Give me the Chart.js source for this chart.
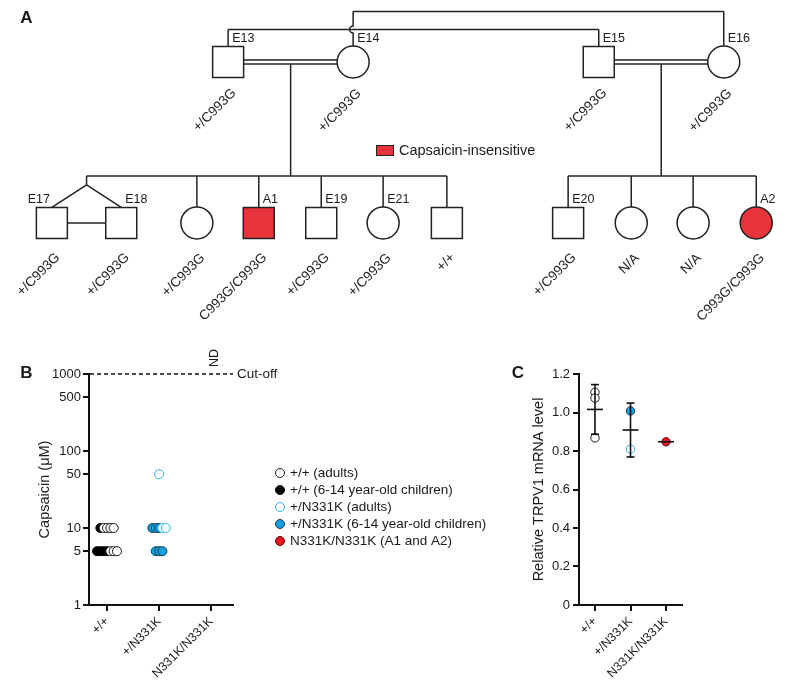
<!DOCTYPE html>
<html><head><meta charset="utf-8">
<script src="https://cdn.jsdelivr.net/npm/chart.js@4.4.1/dist/chart.umd.min.js"></script>
<style>
html,body{margin:0;padding:0;background:#fff;}
#wrap{position:relative;width:787px;height:688px;overflow:hidden;background:#fff;}
canvas{position:absolute;}
</style></head><body>
<div id="wrap">
<canvas id="ped" width="787" height="330" style="left:0;top:0"></canvas>
<canvas id="cb" width="505" height="358" style="left:0;top:330px"></canvas>
<canvas id="cc" width="282" height="358" style="left:505px;top:330px"></canvas>
</div>
<script>
// ---------------- DATA ----------------
// Panel A: pedigree
const pedLabels     = ['E13','E14','E15','E16','E17','E18','','A1','E19','E21','','E20','','','A2'];
const pedSex        = ['M','F','M','F','M','M','F','M','M','F','M','M','F','F','F'];
const pedGeneration = [1,1,1,1,2,2,2,2,2,2,2,2,2,2,2];
const pedSlot       = [3.65,5.65,9.58,11.58,0.83,1.94,3.15,4.14,5.14,6.13,7.15,9.09,10.1,11.09,12.1];
const pedGenotype   = ['+/C993G','+/C993G','+/C993G','+/C993G','+/C993G','+/C993G','+/C993G','C993G/C993G','+/C993G','+/C993G','+/+','+/C993G','N/A','N/A','C993G/C993G'];
const pedAffected   = [0,0,0,0,0,0,0,1,0,0,0,0,0,0,1];
const pedCouples    = [[0,1],[2,3]];
const pedSibships   = [[4,5,6,7,8,9,10],[11,12,13,14]];
const pedTwins      = [[4,5]];
const pedLinks      = [[0,2],[1,3]];
const pedLegendText = 'Capsaicin-insensitive';

// Panel B: capsaicin threshold (µM)
const xCategories = ['+/+','+/N331K','N331K/N331K'];
const seriesNames = ['+/+ (adults)','+/+ (6-14 year-old children)','+/N331K (adults)','+/N331K (6-14 year-old children)','N331K/N331K (A1 and A2)'];
const wtAdults    = [10,10,10,10,5,5,5];
const wtChildren  = [10,5,5,5,5];
const hetAdults   = [50,10,10];
const hetChildren = [10,10,10,5,5,5];
const homozygous  = [];          // ND (above cut-off)
const yTicksB     = [1,5,10,50,100,500,1000];
const cutoffValue = 1000;
const ndText      = 'ND';
const cutoffText  = 'Cut-off';

// Panel C: relative TRPV1 mRNA level
const wtAdultsC    = [1.105,1.075,0.868];
const hetAdultsC   = [0.81];
const hetChildrenC = [1.008];
const homozygousC  = [0.848];
const yTicksC      = [0,0.2,0.4,0.6,0.8,1.0,1.2];
const yTickLabelsC = ['0','0.2','0.4','0.6','0.8','1.0','1.2'];

// ---------------- STYLE ----------------
const FONT = '"Liberation Sans", Arial, Helvetica, sans-serif';
Chart.defaults.font.family = FONT;
Chart.defaults.color = '#1a1a1a';
const INK = '#1a1a1a';
const PED = {sq:31, r:16, line:1.5, ink:'#222', red:'#e9333a', sibRise:47, twinDrop:9, linkRise:[32.5,50.5], dbl:2, idGap:7.5, genoDy:{1:13.5,2:17}, genoDx:6};
const STY = [
  {bg:'#ffffff', bd:'#1a1a1a'},
  {bg:'#000000', bd:'#000000'},
  {bg:'#ffffff', bd:'#2db4ec'},
  {bg:'#159fde', bd:'#133a55'},
  {bg:'#e8161e', bd:'#5a0b0b'}
];

function seg(ctx,x1,y1,x2,y2){ctx.beginPath();ctx.moveTo(x1,y1);ctx.lineTo(x2,y2);ctx.stroke();}

// ---------------- PANEL A ----------------
const pedPlugin = {
  id:'pedigree',
  beforeDatasetsDraw(chart){
    const ctx = chart.ctx, xs = chart.scales.x, ys = chart.scales.y;
    const px = i => xs.getPixelForValue(pedSlot[i]);
    const py = i => ys.getPixelForValue(pedGeneration[i]);
    const half = i => pedSex[i]==='M' ? PED.sq/2 : PED.r;
    ctx.save();
    ctx.strokeStyle = PED.ink; ctx.lineWidth = PED.line;
    // upper links
    const geo = pedLinks.map(([a,b],k)=>({xa:px(a),xb:px(b),yTop:py(a)-PED.linkRise[k],ya:py(a)-half(a),yb:py(b)-half(b)}));
    geo.forEach((g,k)=>{
      seg(ctx,g.xa,g.yTop,g.xb,g.yTop);
      [[g.xa,g.ya],[g.xb,g.yb]].forEach(([vx,vyb])=>{
        const hops = geo.filter((h,j)=>j!==k && h.yTop>g.yTop && h.yTop<vyb && vx>Math.min(h.xa,h.xb)+1 && vx<Math.max(h.xa,h.xb)-1).map(h=>h.yTop).sort((a,b)=>a-b);
        ctx.beginPath(); ctx.moveTo(vx,g.yTop);
        hops.forEach(hy=>{ctx.lineTo(vx,hy-3.5); ctx.arc(vx,hy,3.5,-Math.PI/2,Math.PI/2,true);});
        ctx.lineTo(vx,vyb); ctx.stroke();
      });
    });
    // couples (consanguineous double line)
    pedCouples.forEach(([a,b])=>{const y=py(a); seg(ctx,px(a),y-PED.dbl,px(b),y-PED.dbl); seg(ctx,px(a),y+PED.dbl,px(b),y+PED.dbl);});
    // sibships
    pedSibships.forEach((kids,s)=>{
      const [a,b] = pedCouples[s];
      const mx = (px(a)+px(b))/2, sibY = py(kids[0])-PED.sibRise;
      seg(ctx,mx,py(a)+PED.dbl,mx,sibY);
      const anchors=[mx], done=new Set();
      kids.forEach(i=>{
        if(done.has(i)) return;
        const tw = pedTwins.find(t=>t.includes(i));
        if(tw){
          const jx = tw.reduce((acc,j)=>acc+px(j),0)/tw.length, jy = sibY+PED.twinDrop;
          seg(ctx,jx,sibY,jx,jy);
          tw.forEach(j=>{seg(ctx,jx,jy,px(j),py(j)-half(j)); done.add(j);});
          seg(ctx,px(tw[0]),py(tw[0]),px(tw[tw.length-1]),py(tw[0]));
          anchors.push(jx);
        } else {
          seg(ctx,px(i),sibY,px(i),py(i)-half(i)); anchors.push(px(i)); done.add(i);
        }
      });
      seg(ctx,Math.min(...anchors),sibY,Math.max(...anchors),sibY);
    });
    ctx.restore();
  },
  afterDatasetsDraw(chart){
    const ctx = chart.ctx, xs = chart.scales.x, ys = chart.scales.y;
    const px = i => xs.getPixelForValue(pedSlot[i]);
    const py = i => ys.getPixelForValue(pedGeneration[i]);
    const half = i => pedSex[i]==='M' ? PED.sq/2 : PED.r;
    ctx.save();
    ctx.fillStyle = INK; ctx.textBaseline='middle';
    ctx.font = '12.5px '+FONT;
    pedLabels.forEach((t,i)=>{
      if(!t) return;
      const leftTwin = pedTwins.some(tw=>tw[0]===i);
      ctx.textAlign = leftTwin?'right':'left';
      ctx.fillText(t, px(i)+(leftTwin?-2:4), py(i)-half(i)-PED.idGap);
    });
    ctx.font = '13.5px '+FONT; ctx.fillStyle='#222';
    pedGenotype.forEach((t,i)=>{
      ctx.save();
      ctx.translate(px(i)+PED.genoDx, py(i)+half(i)+PED.genoDy[pedGeneration[i]]);
      ctx.rotate(-Math.PI/4); ctx.textAlign='right';
      ctx.fillText(t,0,0);
      ctx.restore();
    });
    // legend
    ctx.fillStyle = PED.red; ctx.strokeStyle='#222'; ctx.lineWidth=1;
    ctx.fillRect(376.5,145.5,17,10); ctx.strokeRect(376.5,145.5,17,10);
    ctx.fillStyle = INK; ctx.font='14.5px '+FONT; ctx.textAlign='left';
    ctx.fillText(pedLegendText, 399, 151);
    // panel letter
    ctx.font='bold 17px '+FONT; ctx.textAlign='center';
    ctx.fillText('A', 26.5, 18);
    ctx.restore();
  }
};

new Chart(document.getElementById('ped'), {
  type:'scatter',
  data:{datasets:[{
    data: pedSlot.map((s,i)=>({x:s,y:pedGeneration[i]})),
    pointStyle: pedSex.map(s=>s==='M'?'rect':'circle'),
    pointRadius: pedSex.map(s=>s==='M'? (PED.sq/2)/Math.SQRT1_2 : PED.r),
    pointHoverRadius: pedSex.map(s=>s==='M'? (PED.sq/2)/Math.SQRT1_2 : PED.r),
    pointBackgroundColor: pedAffected.map(a=>a?PED.red:'#ffffff'),
    pointBorderColor: PED.ink, pointBorderWidth:1.5, showLine:false, clip:false
  }]},
  options:{
    animation:false, responsive:false, devicePixelRatio:1, events:[],
    layout:{padding:0, autoPadding:false},
    plugins:{legend:{display:false},tooltip:{enabled:false}},
    scales:{
      x:{type:'linear',display:false,min:0,max:787/62.5},
      y:{type:'linear',display:false,reverse:true,min:0.615,max:2.665}
    }
  },
  plugins:[pedPlugin]
});

// ---------------- PANEL B ----------------
const groupsB = [
  {values:wtAdults,    cat:1, layout:1},
  {values:wtChildren,  cat:1, layout:0},
  {values:hetAdults,   cat:2, layout:1},
  {values:hetChildren, cat:2, layout:0},
  {values:homozygous,  cat:3, layout:0}
];
const jitterStep = 0.064;
function swarm(groups){
  const pts = groups.map(()=>[]);
  const rows = new Map();
  groups.map((g,gi)=>({g,gi})).sort((a,b)=>a.g.layout-b.g.layout).forEach(({g,gi})=>{
    g.values.forEach(v=>{
      const key = g.cat+'|'+v;
      if(!rows.has(key)) rows.set(key,[]);
      rows.get(key).push({gi,v,cat:g.cat});
    });
  });
  rows.forEach(list=>{
    const n=list.length;
    list.forEach((p,k)=>pts[p.gi].push({x:p.cat+(k-(n-1)/2)*jitterStep, y:p.v}));
  });
  return pts;
}
const ptsB = swarm(groupsB);

const axisCommon = {
  border:{display:true,color:'#111',width:2},
  grid:{display:true,drawOnChartArea:false,drawTicks:true,tickLength:6,color:'#111',lineWidth:2}
};

const bPlugin = {
  id:'bextra',
  afterDraw(chart){
    const ctx=chart.ctx, xs=chart.scales.x, ys=chart.scales.y, ca=chart.chartArea;
    ctx.save();
    const yc = ys.getPixelForValue(cutoffValue);
    ctx.strokeStyle='#111'; ctx.lineWidth=1.5; ctx.setLineDash([4,3]);
    seg(ctx,ca.left+1,yc,ca.right,yc);
    ctx.setLineDash([]);
    ctx.fillStyle=INK; ctx.font='13.5px '+FONT; ctx.textBaseline='middle'; ctx.textAlign='left';
    ctx.fillText(cutoffText, ca.right+4, yc);
    // ND above third category
    ctx.save();
    ctx.translate(xs.getPixelForValue(3)+3, yc-7);
    ctx.rotate(-Math.PI/2); ctx.font='12.5px '+FONT; ctx.textAlign='left';
    ctx.fillText(ndText,0,0);
    ctx.restore();
    // legend
    chart.data.datasets.forEach((ds,i)=>{
      const y = 143 + i*17;
      ctx.beginPath(); ctx.arc(280,y,4.5,0,Math.PI*2);
      ctx.fillStyle=ds.pointBackgroundColor; ctx.fill();
      ctx.lineWidth=1; ctx.strokeStyle=ds.pointBorderColor; ctx.stroke();
      ctx.fillStyle=INK; ctx.font='13.5px '+FONT; ctx.textAlign='left';
      ctx.fillText(ds.label, 290, y);
    });
    ctx.font='bold 17px '+FONT; ctx.textAlign='center'; ctx.fillStyle=INK;
    ctx.fillText('B', 26.5, 43.5);
    ctx.restore();
  }
};

new Chart(document.getElementById('cb'), {
  type:'scatter',
  data:{datasets: groupsB.map((g,i)=>({
    label: seriesNames[i], data: ptsB[i],
    pointRadius:4.5, pointHoverRadius:4.5, pointBorderWidth:1,
    pointBackgroundColor: STY[i].bg, pointBorderColor: STY[i].bd, showLine:false, clip:false
  }))},
  options:{
    animation:false, responsive:false, devicePixelRatio:1, events:[],
    layout:{padding:{left:0,top:44,right:505-233,bottom:0}, autoPadding:false},
    plugins:{legend:{display:false},tooltip:{enabled:false}},
    scales:{
      x:{type:'linear',min:0.654,max:3.42,...axisCommon,
        afterBuildTicks:s=>{s.ticks=xCategories.map((c,i)=>({value:i+1}));},
        ticks:{callback:v=>xCategories[Math.round(v)-1],minRotation:45,maxRotation:45,autoSkip:false,padding:3,font:{size:12.5},color:INK},
        afterFit:s=>{s.height=83;}},
      y:{type:'logarithmic',min:1,max:1000,...axisCommon,
        afterBuildTicks:s=>{s.ticks=yTicksB.map(v=>({value:v}));},
        ticks:{callback:v=>String(v),padding:2,font:{size:13},color:INK,autoSkip:false},
        title:{display:true,text:'Capsaicin (μM)',font:{size:14.5},color:INK,padding:{top:35.8,bottom:0}},
        afterFit:s=>{s.width=89;}}
    }
  },
  plugins:[bPlugin]
});

// ---------------- PANEL C ----------------
const groupsC = [
  {values:wtAdultsC,    cat:1},
  {values:hetAdultsC,   cat:2},
  {values:hetChildrenC, cat:2},
  {values:homozygousC,  cat:3}
];
const styC = [STY[0],STY[2],STY[3],STY[4]];
const cPlugin = {
  id:'cextra',
  afterDatasetsDraw(chart){
    const ctx=chart.ctx, xs=chart.scales.x, ys=chart.scales.y;
    ctx.save(); ctx.strokeStyle='#111'; ctx.lineWidth=1.6;
    xCategories.forEach((c,k)=>{
      const vals = groupsC.filter(g=>g.cat===k+1).flatMap(g=>g.values);
      if(!vals.length) return;
      const n=vals.length, m=vals.reduce((a,b)=>a+b,0)/n;
      const sd = n>1 ? Math.sqrt(vals.reduce((a,v)=>a+(v-m)*(v-m),0)/(n-1)) : 0;
      const x=xs.getPixelForValue(k+1), ym=ys.getPixelForValue(m);
      seg(ctx,x-8,ym,x+8,ym);
      if(sd>0){
        const yt=ys.getPixelForValue(m+sd), yb=ys.getPixelForValue(m-sd);
        seg(ctx,x,yt,x,yb); seg(ctx,x-4,yt,x+4,yt); seg(ctx,x-4,yb,x+4,yb);
      }
    });
    ctx.font='bold 17px '+FONT; ctx.textAlign='center'; ctx.textBaseline='middle'; ctx.fillStyle=INK;
    ctx.fillText('C', 13, 43.5);
    ctx.restore();
  }
};
new Chart(document.getElementById('cc'), {
  type:'scatter',
  data:{datasets: groupsC.map((g,i)=>({
    data: g.values.map(v=>({x:g.cat,y:v})),
    pointRadius:4.2, pointHoverRadius:4.2, pointBorderWidth:1,
    pointBackgroundColor: styC[i].bg, pointBorderColor: styC[i].bd, showLine:false, clip:false
  }))},
  options:{
    animation:false, responsive:false, devicePixelRatio:1, events:[],
    layout:{padding:{left:0,top:44,right:282-177,bottom:0}, autoPadding:false},
    plugins:{legend:{display:false},tooltip:{enabled:false}},
    scales:{
      x:{type:'linear',min:0.55,max:3.45,...axisCommon,
        afterBuildTicks:s=>{s.ticks=xCategories.map((c,i)=>({value:i+1}));},
        ticks:{callback:v=>xCategories[Math.round(v)-1],minRotation:45,maxRotation:45,autoSkip:false,padding:3,font:{size:12.5},color:INK},
        afterFit:s=>{s.height=83;}},
      y:{type:'linear',min:0,max:1.2,...axisCommon,
        afterBuildTicks:s=>{s.ticks=yTicksC.map(v=>({value:v}));},
        ticks:{callback:(v,i)=>yTickLabelsC[i],padding:3,font:{size:13},color:INK,autoSkip:false},
        title:{display:true,text:'Relative TRPV1 mRNA level',font:{size:14.5},color:INK,padding:{top:24.8,bottom:0}},
        afterFit:s=>{s.width=74;}}
    }
  },
  plugins:[cPlugin]
});
</script>
</body></html>
